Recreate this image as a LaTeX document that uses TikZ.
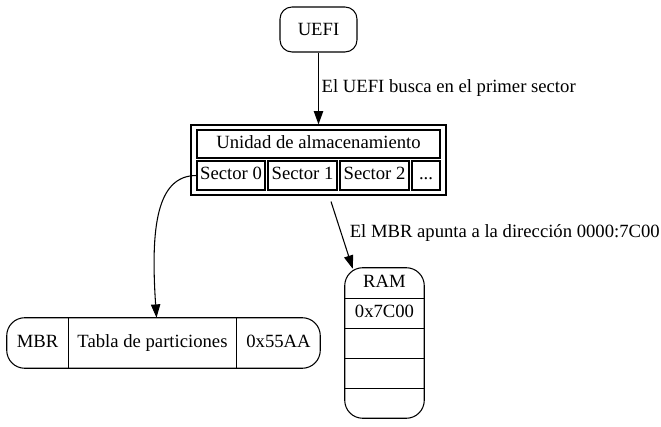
\documentclass[tikz,border=0pt]{standalone}
\usepackage{fontspec}
\setmainfont{Liberation Serif}
\usetikzlibrary{arrows.meta,calc}
\tikzset{
	cell/.style={draw, line width=0.8pt, inner sep=0pt, minimum height=21.75pt, text height=9.5pt, text depth=3pt},
	field/.style={inner sep=0pt, minimum height=37.5pt, text height=9.5pt, text depth=3pt},
	slot/.style={inner sep=0pt, minimum width=59.25pt, minimum height=22.5pt, text height=9.5pt, text depth=3pt},
	edge/.style={line width=0.8pt, -{Triangle[length=10pt,width=7pt]}},
	tag/.style={inner sep=2pt}
}
\begin{document}
\begin{tikzpicture}[x=0.75pt, y=-0.75pt, font=\fontsize{14}{16.8}\selectfont]
			%%%%% START %%%%%
			\useasboundingbox (0, 0) rectangle (661, 427);
			
			\node[draw, line width=0.8pt, rounded corners=9pt, minimum width=57.75pt, minimum height=33.75pt] (uefi) at (318.5, 29.5) {UEFI};
			
			\node[draw, line width=0.8pt, minimum width=191.25pt, minimum height=52.5pt] (storage) at (318.5, 160) {};
			\node[cell, minimum width=182.25pt, minimum height=21pt] (header) at (318.5, 144) {Unidad de almacenamiento};
			\node[cell, minimum width=51pt] (sec0) at (231, 175.5) {Sector 0};
			\node[cell, minimum width=51.75pt] (sec1) at (302.5, 175.5) {Sector 1};
			\node[cell, minimum width=51.75pt] (sec2) at (374.5, 175.5) {Sector 2};
			\node[cell, minimum width=21pt] (dots) at (426, 175.5) {.{}.{}.};
			
			\node[field, minimum width=45.75pt] (mbr) at (37.5, 343) {MBR};
			\node[field, minimum width=126.75pt] (tabla) at (152.5, 343) {Tabla de particiones};
			\node[field, minimum width=62.25pt] (firma) at (278.5, 343) {0x55AA};
			\draw[line width=0.8pt, rounded corners=13.5pt] (mbr.north west) rectangle (firma.south east);
			\draw[line width=0.8pt] (mbr.north east) -- (mbr.south east);
			\draw[line width=0.8pt] (firma.north west) -- (firma.south west);
			
			\node[slot] (ram0) at (384.5, 283) {RAM};
			\node[slot] (ram1) at (384.5, 313) {0x7C00};
			\node[slot] (ram2) at (384.5, 343) {};
			\node[slot] (ram3) at (384.5, 373) {};
			\node[slot] (ram4) at (384.5, 403) {};
			\draw[line width=0.8pt, rounded corners=13.5pt] (ram0.north west) rectangle (ram4.south east);
			\foreach \r in {0,1,2,3}
				\draw[line width=0.8pt] (ram\r.south west) -- (ram\r.south east);
			
			\draw[edge] (uefi.south) -- (storage.north) node[tag, midway, right] {El UEFI busca en el primer sector};
			\draw[edge] (sec0.west) .. controls +(-40, 0) and +(-6, -90) .. ($(tabla.north)+(4, 0)$);
			\draw[edge] ($(storage.south)+(12.5, 6)$) -- ($(ram0.north west)+(8, 1)$) node[tag, pos=0.47, right=4pt] {El MBR apunta a la dirección 0000:7C00};
			
			%%%%% END %%%%%
		\end{tikzpicture}
\end{document}
